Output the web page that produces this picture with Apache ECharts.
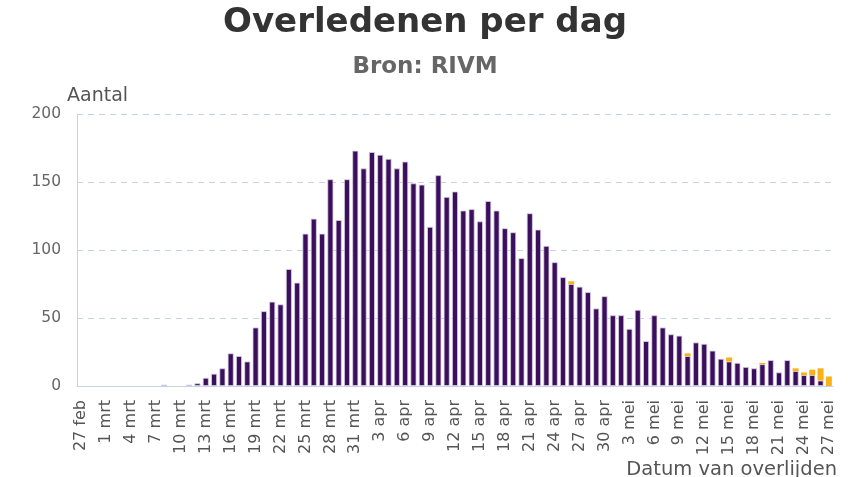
<!DOCTYPE html>
<html>
<head>
<meta charset="utf-8">
<script src="https://cdn.jsdelivr.net/npm/echarts@6/dist/echarts.min.js"></script>
<style>
  html, body { margin: 0; padding: 0; background: #fff; }
  #chart { width: 850px; height: 477px; }
</style>
</head>
<body>
<div id="chart"></div>
<script>
// dagen van 27 feb t/m 27 mei
var dagen = [
    '27 feb', '28 feb', '29 feb',
    '1 mrt', '2 mrt', '3 mrt', '4 mrt', '5 mrt', '6 mrt', '7 mrt', '8 mrt', '9 mrt', '10 mrt',
    '11 mrt', '12 mrt', '13 mrt', '14 mrt', '15 mrt', '16 mrt', '17 mrt', '18 mrt', '19 mrt', '20 mrt',
    '21 mrt', '22 mrt', '23 mrt', '24 mrt', '25 mrt', '26 mrt', '27 mrt', '28 mrt', '29 mrt', '30 mrt', '31 mrt',
    '1 apr', '2 apr', '3 apr', '4 apr', '5 apr', '6 apr', '7 apr', '8 apr', '9 apr', '10 apr',
    '11 apr', '12 apr', '13 apr', '14 apr', '15 apr', '16 apr', '17 apr', '18 apr', '19 apr', '20 apr',
    '21 apr', '22 apr', '23 apr', '24 apr', '25 apr', '26 apr', '27 apr', '28 apr', '29 apr', '30 apr',
    '1 mei', '2 mei', '3 mei', '4 mei', '5 mei', '6 mei', '7 mei', '8 mei', '9 mei', '10 mei',
    '11 mei', '12 mei', '13 mei', '14 mei', '15 mei', '16 mei', '17 mei', '18 mei', '19 mei', '20 mei',
    '21 mei', '22 mei', '23 mei', '24 mei', '25 mei', '26 mei', '27 mei'
];

// eerder gemeld
var overleden = [
    0, 0, 0, 0, 0, 0, 0, 0, 0, 0,
    1, 0, 0, 1, 2, 6, 9, 13, 24, 22,
    18, 43, 55, 62, 60, 86, 76, 112, 123, 112,
    152, 122, 152, 173, 160, 172, 170, 167, 160, 165,
    149, 148, 117, 155, 139, 143, 129, 130, 121, 136,
    129, 116, 113, 94, 127, 115, 103, 91, 80, 75,
    73, 69, 57, 66, 52, 52, 42, 56, 33, 52,
    43, 38, 37, 22, 32, 31, 26, 20, 18, 17,
    14, 13, 16, 19, 10, 19, 11, 8, 8, 4,
    0
];

// nieuw gemeld
var nieuw = [
    0, 0, 0, 0, 0, 0, 0, 0, 0, 0,
    0, 0, 0, 0, 0, 0, 0, 0, 0, 0,
    0, 0, 0, 0, 0, 0, 0, 0, 0, 0,
    0, 0, 0, 0, 0, 0, 0, 0, 0, 0,
    0, 0, 0, 0, 0, 0, 0, 0, 0, 0,
    0, 0, 0, 0, 0, 0, 0, 0, 0, 2,
    0, 0, 0, 0, 0, 0, 0, 0, 0, 0,
    0, 0, 0, 2, 0, 0, 0, 0, 3, 0,
    0, 0, 1, 0, 0, 0, 2, 2, 4, 9,
    7
];

var yTicks = [0, 50, 100, 150, 200];

// lege dagen niet tekenen (anders een streepje van de rand)
function zonderNul(arr) {
    return arr.map(function (v) { return v === 0 ? null : v; });
}

var lijnKleur = '#c5d3e6';

var myChart = echarts.init(document.getElementById('chart'));
var option = {
    animation: false,
    title: [
        {
            text: 'Overledenen per dag',
            left: 'center',
            top: 1,
            textStyle: {fontFamily: 'DejaVu Sans', fontSize: 34, fontWeight: 'bold', color: '#333'}
        },
        {
            text: 'Bron: RIVM',
            left: 'center',
            top: 51,
            textStyle: {fontFamily: 'DejaVu Sans', fontSize: 23, fontWeight: 'bold', color: '#666'}
        },
        {
            text: 'Aantal',
            left: 62,
            top: 82,
            textStyle: {fontFamily: 'DejaVu Sans', fontSize: 19, fontWeight: 'normal', color: '#555'}
        },
        {
            text: 'Datum van overlijden',
            right: 8,
            top: 455,
            textStyle: {fontFamily: 'DejaVu Sans', fontSize: 19.5, fontWeight: 'normal', color: '#555'}
        }
    ],
    grid: {left: 77, right: 17, top: 114, bottom: 91},
    xAxis: {
        type: 'category',
        data: dagen,
        axisLine: {lineStyle: {color: lijnKleur, width: 1}},
        axisTick: {alignWithLabel: true, interval: 2, length: 5, lineStyle: {color: lijnKleur, width: 2}},
        axisLabel: {
            interval: 2,
            rotate: 90,
            margin: 14,
            fontFamily: 'DejaVu Sans',
            fontSize: 16,
            color: '#555'
        }
    },
    yAxis: {
        type: 'value',
        min: yTicks[0],
        max: yTicks[yTicks.length - 1],
        interval: 50,
        axisLine: {show: true, lineStyle: {color: lijnKleur}},
        axisTick: {show: false},
        axisLabel: {fontFamily: 'DejaVu Sans', fontSize: 15.5, color: '#666', margin: 16},
        splitLine: {lineStyle: {color: lijnKleur, type: [6, 5], width: 1}}
    },
    series: [
        {
            name: 'Eerder gemeld',
            type: 'bar',
            stack: 'totaal',
            barCategoryGap: '28%',
            itemStyle: {color: '#3b0f5c', borderColor: '#d9d2e6', borderWidth: 0.8},
            data: zonderNul(overleden)
        },
        {
            name: 'Nieuw gemeld',
            type: 'bar',
            stack: 'totaal',
            barCategoryGap: '28%',
            itemStyle: {color: '#fbb216'},
            data: zonderNul(nieuw)
        }
    ]
};
myChart.setOption(option);
</script>
</body>
</html>
